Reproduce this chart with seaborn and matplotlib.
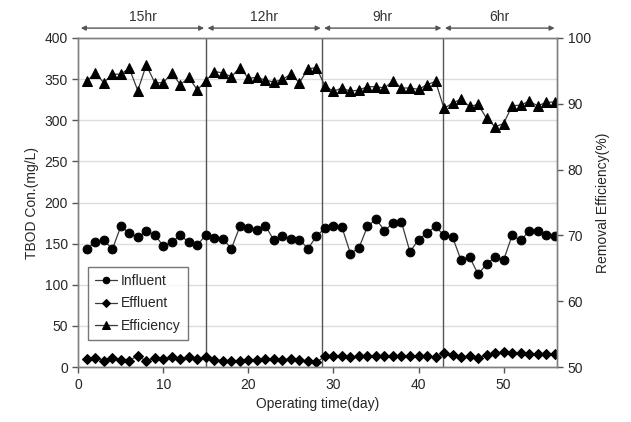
import numpy as np
import pandas as pd
import matplotlib
matplotlib.use("Agg")
import matplotlib.pyplot as plt
import matplotlib.transforms as mtransforms
import seaborn as sns

# data
days = list(range(1, 57))
influent = [144, 152, 155, 143, 171, 163, 158, 165, 161, 147, 152, 160, 152, 148, 161,
            157, 156, 144, 171, 169, 167, 172, 154, 159, 156, 155, 144, 159, 169,
            171, 170, 138, 145, 171, 180, 166, 175, 176, 140, 155, 163, 171, 160,
            158, 130, 134, 113, 125, 134, 130, 160, 154, 165, 165, 161, 159]
effluent = [10, 11, 8, 11, 9, 8, 14, 7, 11, 10, 12, 10, 12, 10, 12,
            9, 8, 8, 8, 9, 9, 10, 10, 9, 10, 9, 7, 6, 13,
            14, 13, 12, 13, 13, 14, 13, 13, 14, 13, 13, 14, 12, 17,
            15, 12, 14, 11, 15, 17, 18, 17, 17, 16, 16, 16, 16]
efficiency = [93.4, 94.7, 93.2, 94.5, 94.5, 95.4, 92.0, 95.9, 93.2, 93.2, 94.7, 92.9, 94.0, 92.1, 93.5,
              94.9, 94.7, 94.1, 95.5, 93.9, 94.0, 93.6, 93.3, 93.7, 94.5, 93.2, 95.3, 95.5, 92.7,
              91.9, 92.4, 91.9, 92.1, 92.6, 92.6, 92.4, 93.5, 92.4, 92.4, 92.2, 92.9, 93.4, 89.3,
              90.1, 90.7, 89.6, 89.9, 87.8, 86.5, 87.0, 89.7, 89.8, 90.4, 89.7, 90.2, 90.3]

phase_breaks = [15, 28.7, 42.9]
phase_labels = ["15hr", "12hr", "9hr", "6hr"]

df = pd.DataFrame({"day": days, "Influent": influent, "Effluent": effluent,
                   "Efficiency": efficiency})

sns.set_style("white")
plt.rcParams["font.family"] = ["Liberation Sans", "DejaVu Sans"]

fig = plt.figure(figsize=(6.31, 4.22), dpi=100)
ax = fig.add_axes([0.124, 0.130, 0.759, 0.780])
ax2 = ax.twinx()

line_kw = dict(color="#3a3a3a", linewidth=0.9, markeredgecolor="black",
               markerfacecolor="black")
sns.lineplot(data=df, x="day", y="Influent", ax=ax, marker="o", markersize=6.3,
             label="Influent", **line_kw)
sns.lineplot(data=df, x="day", y="Effluent", ax=ax, marker="D", markersize=5,
             label="Effluent", **line_kw)
sns.lineplot(data=df, x="day", y="Efficiency", ax=ax2, marker="^", markersize=7.3,
             label="Efficiency", **line_kw)

ax.set_xlim(0, 56.3)
ax.set_ylim(0, 400)
ax2.set_ylim(50, 100)
ax.set_xticks(range(0, 60, 10))
ax.set_yticks(range(0, 401, 50))
ax2.set_yticks(range(50, 101, 10))
ax.yaxis.grid(True, color="#dcdcdc", linewidth=1)
ax.set_axisbelow(True)

for b in phase_breaks:
    ax.axvline(b, color="#555555", linewidth=1, zorder=1)

for a in (ax, ax2):
    for s in a.spines.values():
        s.set_color("#808080")
        s.set_linewidth(1)
ax.tick_params(axis="both", direction="out", length=4, width=1, color="#555555",
               labelsize=10, left=True, bottom=True)
ax2.tick_params(axis="y", direction="out", length=4, width=1, color="#555555",
                labelsize=10, right=True)

ax.set_xlabel("Operating time(day)", fontsize=10)
ax.set_ylabel("TBOD Con.(mg/L)", fontsize=10)
ax2.set_ylabel("Removal Efficiency(%)", fontsize=10)

# phase arrows above the plot
trans = mtransforms.blended_transform_factory(ax.transData, ax.transAxes)
edges = [0.1] + phase_breaks + [56.2]
for i, lab in enumerate(phase_labels):
    x0, x1 = edges[i] + 0.2, edges[i + 1] - 0.2
    ax.annotate("", xy=(x1, 1.03), xytext=(x0, 1.03), xycoords=trans, textcoords=trans,
                arrowprops=dict(arrowstyle="<|-|>", color="#555555", lw=1,
                                mutation_scale=7, shrinkA=0, shrinkB=0),
                annotation_clip=False)
    ax.text((edges[i] + edges[i + 1]) / 2, 1.065, lab, transform=trans, ha="center",
            va="center", fontsize=10, color="#333333")

h1, l1 = ax.get_legend_handles_labels()
h2, l2 = ax2.get_legend_handles_labels()
if ax2.get_legend():
    ax2.get_legend().remove()
leg = ax.legend(h1 + h2, l1 + l2, loc="upper left", bbox_to_anchor=(0.005, 0.325),
                frameon=True, fancybox=False, edgecolor="#555555", fontsize=10,
                handlelength=1.6, borderpad=0.5, labelspacing=0.6, handletextpad=0.3,
                markerscale=0.75)
leg.get_frame().set_linewidth(1)

fig.savefig("out.png", dpi=100)
